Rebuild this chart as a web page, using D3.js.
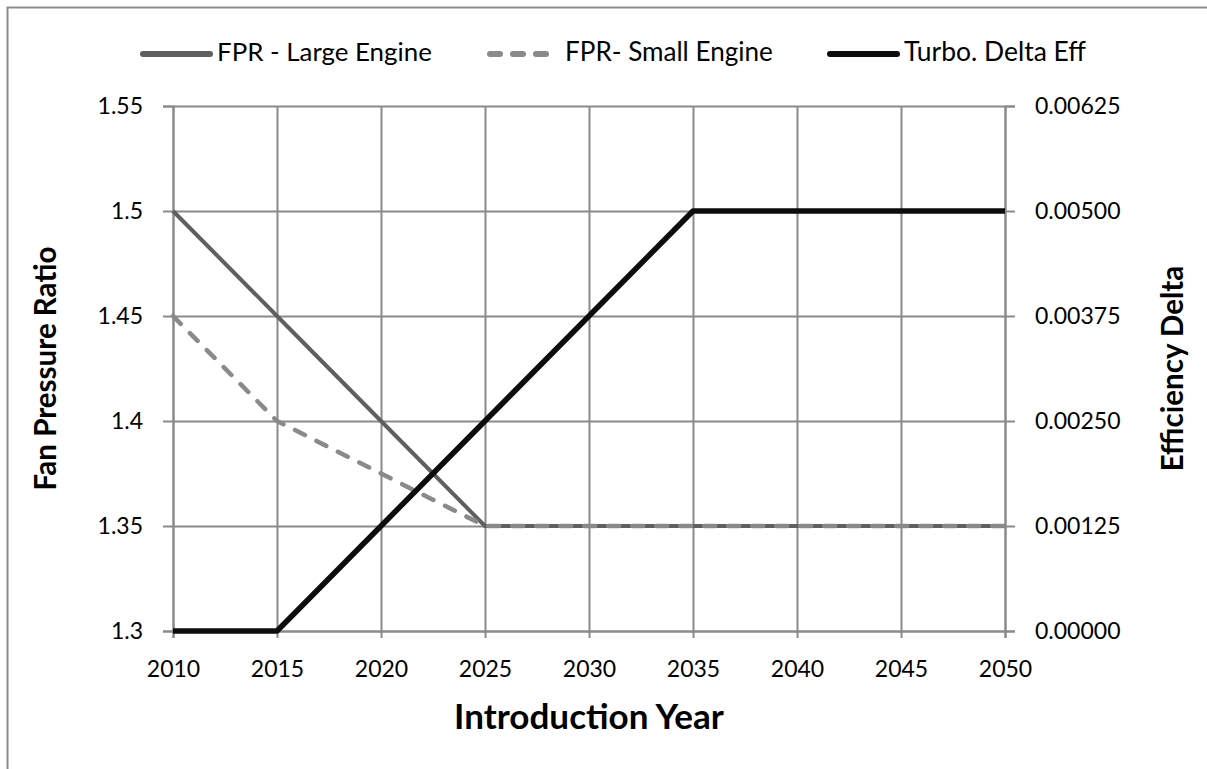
<!DOCTYPE html>
<html>
<head>
<meta charset="utf-8">
<script src="https://cdn.jsdelivr.net/npm/d3@7"></script>
<style>
  body { margin: 0; background: #fff; }
  text { font-family: Lato, "Open Sans", sans-serif; fill: #000; }
</style>
</head>
<body>
<script>
// chart data
var years = [2010, 2015, 2020, 2025, 2030, 2035, 2040, 2045, 2050];
var fprLarge = [1.5, 1.45, 1.4, 1.35, 1.35, 1.35, 1.35, 1.35, 1.35];
var fprSmall = [1.45, 1.4, 1.375, 1.35, 1.35, 1.35, 1.35, 1.35, 1.35];
var turboEff = [0, 0, 0.00125, 0.0025, 0.00375, 0.005, 0.005, 0.005, 0.005];
var leftTicks = [1.3, 1.35, 1.4, 1.45, 1.5, 1.55];
var rightTicks = [0, 0.00125, 0.0025, 0.00375, 0.005, 0.00625];
var seriesNames = ["FPR - Large Engine", "FPR- Small Engine", "Turbo. Delta Eff"];

var W = 1207, H = 769;
var margin = {top: 106, right: 202, bottom: 138, left: 173},
    width = W - margin.left - margin.right,
    height = H - margin.top - margin.bottom;

var svg = d3.select("body").append("svg")
    .attr("width", W)
    .attr("height", H);

// scale a text's font size so it spans the given width
function fit(sel, target) {
  sel.each(function() {
    var fs = parseFloat(d3.select(this).style("font-size"));
    var len = this.getComputedTextLength();
    if (len > 0) d3.select(this).style("font-size", (fs * target / len) + "px");
  });
}

// outer frame (only top and left show in the picture)
svg.append("rect")
    .attr("x", 7.5).attr("y", 7.5)
    .attr("width", 1250).attr("height", 800)
    .attr("fill", "none")
    .attr("stroke", "#8c8c8c")
    .attr("stroke-width", 2);

var g = svg.append("g")
    .attr("transform", "translate(" + margin.left + "," + margin.top + ")");

var x = d3.scaleLinear().domain([2010, 2050]).range([0, width]);
var y = d3.scaleLinear().domain([1.3, 1.55]).range([height, 0]);
var y2 = d3.scaleLinear().domain([0, 0.00625]).range([height, 0]);

var gridColor = "#8a8a8a";

// gridlines
g.append("g").selectAll("line")
    .data(leftTicks)
    .enter().append("line")
    .attr("x1", 0).attr("x2", width)
    .attr("y1", function(d) { return Math.round(y(d)) + 0.5; })
    .attr("y2", function(d) { return Math.round(y(d)) + 0.5; })
    .attr("stroke", gridColor).attr("stroke-width", 2);

g.append("g").selectAll("line")
    .data(years)
    .enter().append("line")
    .attr("y1", 0).attr("y2", height)
    .attr("x1", function(d) { return Math.round(x(d)) + 0.5; })
    .attr("x2", function(d) { return Math.round(x(d)) + 0.5; })
    .attr("stroke", gridColor).attr("stroke-width", 2);

// axes
var xAxis = g.append("g")
    .attr("transform", "translate(0," + height + ")")
    .call(d3.axisBottom(x).tickValues(years).tickFormat(d3.format("d")).tickSize(7).tickPadding(23));

var yAxis = g.append("g")
    .call(d3.axisLeft(y).tickValues(leftTicks).tickFormat(function(d) { return String(d); }).tickSize(10).tickPadding(20));

var y2Axis = g.append("g")
    .attr("transform", "translate(" + width + ",0)")
    .call(d3.axisRight(y2).tickValues(rightTicks).tickFormat(d3.format(".5f")).tickSize(10).tickPadding(20));

[xAxis, yAxis, y2Axis].forEach(function(a) {
  a.select(".domain").attr("stroke", gridColor).attr("stroke-width", 2);
  a.selectAll(".tick line").attr("stroke", gridColor).attr("stroke-width", 2);
  a.selectAll(".tick text").style("font-size", "23px").attr("fill", "#000");
});

// lines
var series = [
  {name: seriesNames[0], values: fprLarge, scale: y, color: "#5f5f5f", w: 4, dash: null},
  {name: seriesNames[1], values: fprSmall, scale: y, color: "#8a8a8a", w: 4.5, dash: "11,13"},
  {name: seriesNames[2], values: turboEff, scale: y2, color: "#0d0d0d", w: 5.5, dash: null}
];

series.forEach(function(s) {
  var line = d3.line()
      .x(function(d, i) { return x(years[i]); })
      .y(function(d) { return s.scale(d); });
  g.append("path")
      .datum(s.values)
      .attr("fill", "none")
      .attr("stroke", s.color)
      .attr("stroke-width", s.w)
      .attr("stroke-linecap", s.dash ? "round" : "butt")
      .attr("stroke-linejoin", "round")
      .attr("stroke-dasharray", s.dash)
      .attr("d", line);
});

// axis titles
var xTitle = svg.append("text")
    .attr("x", margin.left + width / 2)
    .attr("y", 729)
    .attr("text-anchor", "middle")
    .style("font-size", "30px").style("font-weight", "bold")
    .text("Introduction Year");
fit(xTitle, 270);

var yTitle = svg.append("text")
    .attr("transform", "translate(56," + (margin.top + height / 2) + ") rotate(-90)")
    .attr("text-anchor", "middle")
    .style("font-size", "30px").style("font-weight", "bold")
    .text("Fan Pressure Ratio");
fit(yTitle, 244);

var y2Title = svg.append("text")
    .attr("transform", "translate(1183," + (margin.top + height / 2) + ") rotate(-90)")
    .attr("text-anchor", "middle")
    .style("font-weight", "bold")
    .style("font-size", yTitle.style("font-size"))
    .text("Efficiency Delta");

// legend
var legendX = [140, 487, 827];
var legendW = [215, 208, 182];
var legend = svg.append("g").selectAll("g")
    .data(series)
    .enter().append("g")
    .attr("transform", function(d, i) { return "translate(" + legendX[i] + ",54)"; });

legend.append("line")
    .attr("x1", 3)
    .attr("x2", function(d) { return d.dash ? 59 : 70; })
    .attr("stroke", function(d) { return d.color; })
    .attr("stroke-width", 6)
    .attr("stroke-linecap", "round")
    .attr("stroke-dasharray", function(d) { return d.dash ? "10,13" : null; });

legend.append("text")
    .attr("x", function(d) { return d.dash ? 78 : 77; })
    .attr("y", 7)
    .style("font-size", "23px")
    .text(function(d) { return d.name; })
    .each(function(d, i) { fit(d3.select(this), legendW[i]); });
</script>
</body>
</html>
